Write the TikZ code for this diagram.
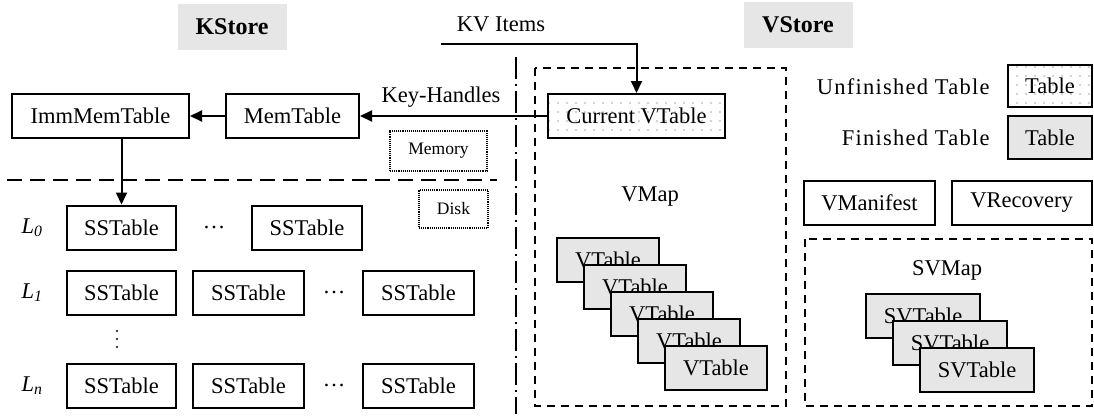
\documentclass[tikz,border=0pt]{standalone}
\usepackage{fontspec}
\setmainfont{Liberation Serif}
\newfontfamily\spacedfont[LetterSpace=5.5]{Liberation Serif}
\usetikzlibrary{arrows.meta,patterns.meta}
\definecolor{tblgray}{HTML}{E6E6E6}
\definecolor{hdrgray}{HTML}{E6E6E6}
\begin{document}
\begin{tikzpicture}[x=1pt,y=-1pt,
  font=\fontsize{22.5}{27}\selectfont,
  box/.style={draw, line width=2pt, inner sep=0pt, minimum height=44pt},
  fin/.style={box, fill=tblgray},
  unfin/.style={box, pattern={Dots[distance=9pt,radius=0.9pt]}, pattern color=gray!70},
  hdr/.style={fill=hdrgray, inner sep=0pt, minimum width=109pt, minimum height=46pt, font=\fontsize{24}{28}\selectfont\bfseries},
  area/.style={draw, line width=2pt, dash pattern=on 8pt off 6pt},
  memdisk/.style={draw, line width=1.1pt, densely dotted, inner sep=0pt, font=\fontsize{17.5}{20}\selectfont},
  arr/.style={line width=2pt, -{Triangle[length=12pt,width=11pt]}},
  lvl/.style={font=\fontsize{22.5}{27}\selectfont\itshape}
]
\useasboundingbox (0,0) rectangle (1094,418);

% headers
\node[hdr] (kstore) at (232,26.5) {KStore};
\node[hdr] (vstore) at (798,25) {VStore};

% KStore memory part
\node[box, minimum width=177pt] (imm) at (100.5,116) {ImmMemTable};
\node[box, minimum width=133pt] (mem) at (292.5,116) {MemTable};
\node[memdisk, minimum width=97pt, minimum height=40pt] (memory) at (438.5,151) {Memory};
\node[memdisk, minimum width=69pt, minimum height=38pt] (disk) at (453.5,209) {Disk};
\coordinate (divL) at (7,180);
\coordinate (divR) at (497,180);
\draw[line width=2pt, dash pattern=on 15pt off 8pt] (divL) -- (divR);

% levels
\node[lvl] (l0) at (32,228) {L\textsubscript{0}};
\node[lvl] (l1) at (32,292.5) {L\textsubscript{1}};
\node[lvl] (ln) at (32,385.5) {L\textsubscript{n}};

\node[box, minimum width=109pt] (s00) at (121.5,227.5) {SSTable};
\node (d0) at (214,227.5) {\dots};
\node[box, minimum width=110pt] (s01) at (307,227.5) {SSTable};

\node[box, minimum width=109pt] (s10) at (121.5,292.5) {SSTable};
\node[box, minimum width=111pt] (s11) at (248.5,292.5) {SSTable};
\node (d1) at (334,292.5) {\dots};
\node[box, minimum width=111pt] (s12) at (418.5,292.5) {SSTable};

% vertical ellipsis
\foreach \yy in {331,339,347} { \fill (117,\yy) circle (1.2pt); }

\node[box, minimum width=109pt] (sn0) at (121.5,385.5) {SSTable};
\node[box, minimum width=111pt] (sn1) at (248.5,385.5) {SSTable};
\node (dn) at (334,385.5) {\dots};
\node[box, minimum width=111pt] (sn2) at (418.5,385.5) {SSTable};

% separator
\coordinate (sepT) at (516,57);
\coordinate (sepB) at (516,414);
\draw[line width=2pt, dash pattern=on 22pt off 5pt on 2pt off 5pt] (sepT) -- (sepB);

% VMap area
\draw[area] (535,68) rectangle (786,406);
\node (vmaplbl) at (650,197) {VMap};
\node[unfin, minimum width=177pt] (cur) at (636.5,116) {Current VTable};
\foreach \i in {0,...,4} {
  \node[fin, minimum width=102pt] (vt\i) at (608+27*\i,260+27*\i) {VTable};
}

% KV items and key handles
\node (kv) at (501,24) {KV Items};
\coordinate (kvstart) at (441,44);
\draw[arr] (kvstart) -| (cur.north);
\draw[arr] (cur.west) -- (mem.east);
\node (kh) at (441,97) {Key-Handles};
\draw[arr] (mem.west) -- (imm.east);
\draw[arr] (s00.north |- imm.south) -- (s00.north);

% legend
\node[anchor=east, font=\fontsize{22.5}{27}\spacedfont] (unl) at (993,87) {Unfinished Table};
\node[unfin, minimum width=84pt, minimum height=42pt] (unbox) at (1050,86) {Table};
\node[anchor=east, font=\fontsize{22.5}{27}\spacedfont] (fnl) at (993,137.5) {Finished Table};
\node[fin, minimum width=84pt, minimum height=43pt] (fnbox) at (1050,137.5) {Table};

\node[box, minimum width=131pt] (vman) at (869.5,203) {VManifest};
\node[box, minimum width=140pt] (vrec) at (1021.5,203) {VRecovery};

% SVMap area
\draw[area] (805,239) rectangle (1092,406);
\node (svmaplbl) at (947,270) {SVMap};
\foreach \i in {0,1,2} {
  \node[fin, minimum width=114pt] (svt\i) at (923+27*\i,316+27*\i) {SVTable};
}
\end{tikzpicture}
\end{document}
